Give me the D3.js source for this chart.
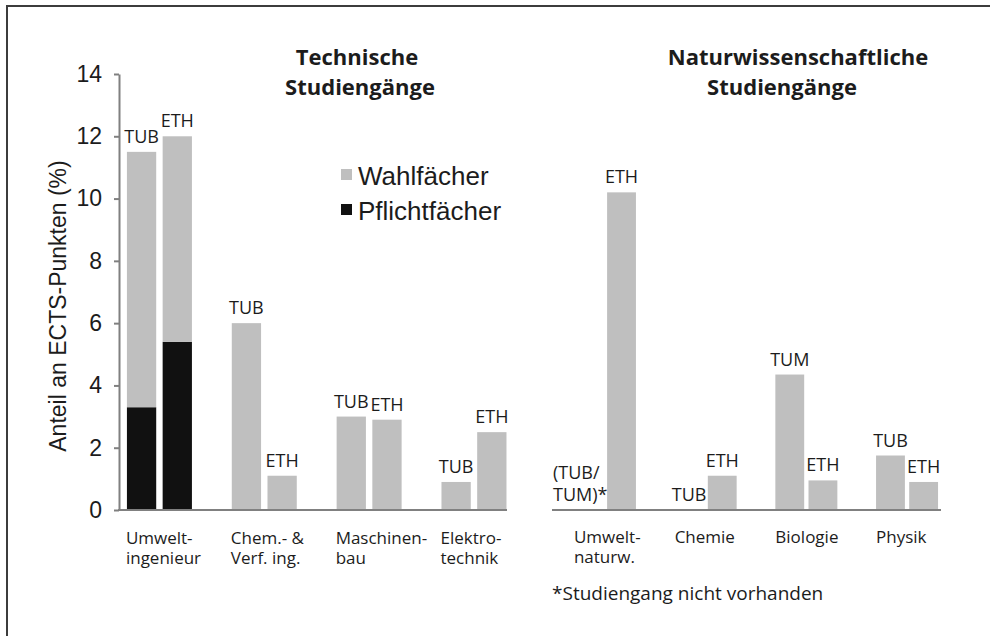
<!DOCTYPE html>
<html>
<head>
<meta charset="utf-8">
<script src="https://cdn.jsdelivr.net/npm/d3@7"></script>
<style>
body { margin: 0; background: #fff; }
svg text { fill: #1c1c1c; }
.lbl { font-family: 'Open Sans', sans-serif; font-size: 17px; }
.bar { font-family: 'Open Sans', sans-serif; font-size: 18px; }
.title { font-family: 'Open Sans', sans-serif; font-size: 22px; font-weight: bold; }
.arial { font-family: 'Liberation Sans', Arial, sans-serif; }
</style>
</head>
<body>
<div id="chart"></div>
<script>
// Technische Studiengänge
var techCategories = [['Umwelt-', 'ingenieur'], ['Chem.- &', 'Verf. ing.'], ['Maschinen-', 'bau'], ['Elektro-', 'technik']];
var techUnis = ['TUB', 'ETH'];
var techPflichtTUB = [3.3, 0, 0, 0];
var techWahlTUB = [8.2, 6.0, 3.0, 0.9];
var techPflichtETH = [5.4, 0, 0, 0];
var techWahlETH = [6.6, 1.1, 2.9, 2.5];

// Naturwissenschaftliche Studiengänge
var natCategories = [['Umwelt-', 'naturw.'], ['Chemie'], ['Biologie'], ['Physik']];
var natFirstLabels = [['(TUB/', 'TUM)*'], ['TUB'], ['TUM'], ['TUB']];
var natFirst = [null, 0, 4.35, 1.75];
var natETH = [10.2, 1.1, 0.95, 0.9];

var yTicks = [0, 2, 4, 6, 8, 10, 12, 14];
var legendItems = ['Wahlfächer', 'Pflichtfächer'];

var svgWidth = 990;
var svgHeight = 636;
var grey = '#bfbfbf';
var black = '#111111';
var axisColor = '#808080';

var svg = d3.select('#chart')
    .append('svg')
    .attr('width', svgWidth)
    .attr('height', svgHeight);

// frame (top + left only)
svg.append('path')
    .attr('d', 'M7,' + svgHeight + 'V6H' + svgWidth)
    .attr('fill', 'none')
    .attr('stroke', '#3c3c3c')
    .attr('stroke-width', 2);

var y = d3.scaleLinear().domain([0, 14]).range([510, 74]);

// y axis
var yAxis = svg.append('g')
    .attr('transform', 'translate(119,0)')
    .call(d3.axisLeft(y).tickValues(yTicks).tickSize(5).tickSizeOuter(0).tickPadding(12));
yAxis.selectAll('path, line').attr('stroke', axisColor).attr('stroke-width', 2);
yAxis.selectAll('text')
    .attr('class', 'arial')
    .attr('font-size', 23)
    .attr('fill', '#1c1c1c');

svg.append('text')
    .attr('class', 'arial')
    .attr('transform', 'rotate(-90)')
    .attr('x', -306)
    .attr('y', 66)
    .attr('text-anchor', 'middle')
    .attr('font-size', 23)
    .text('Anteil an ECTS-Punkten (%)');

// ---- left panel ----
var x0 = d3.scaleBand().domain(d3.range(techCategories.length)).range([107, 526.4]);
var c0 = x0.bandwidth() / 2;
var x1 = d3.scaleBand().domain(techUnis).range([c0 - 32.5, c0 + 32.5]).paddingInner(0.18);

var techRows = [];
techCategories.forEach(function(c, i) {
    techRows.push({ cat: i, uni: 'TUB', pflicht: techPflichtTUB[i], wahl: techWahlTUB[i] });
    techRows.push({ cat: i, uni: 'ETH', pflicht: techPflichtETH[i], wahl: techWahlETH[i] });
});
var stacked = d3.stack().keys(['pflicht', 'wahl'])(techRows);
var colors = { pflicht: black, wahl: grey };

var left = svg.append('g');
stacked.forEach(function(layer) {
    left.selectAll('rect.' + layer.key)
        .data(layer.filter(function(d) { return d[1] > d[0]; }))
        .enter()
        .append('rect')
        .attr('class', layer.key)
        .attr('x', d => x0(d.data.cat) + x1(d.data.uni))
        .attr('width', x1.bandwidth())
        .attr('y', d => y(d[1]))
        .attr('height', d => y(d[0]) - y(d[1]))
        .attr('fill', colors[layer.key]);
});

left.selectAll('text.bar')
    .data(techRows)
    .enter()
    .append('text')
    .attr('class', 'bar')
    .attr('text-anchor', 'middle')
    .attr('x', d => x0(d.cat) + x1(d.uni) + x1.bandwidth() / 2)
    .attr('y', d => y(d.pflicht + d.wahl) - 9)
    .text(d => d.uni);

svg.append('line')
    .attr('x1', 118).attr('x2', 507)
    .attr('y1', y(0)).attr('y2', y(0))
    .attr('stroke', axisColor).attr('stroke-width', 2);

techCategories.forEach(function(lines, i) {
    lines.forEach(function(s, k) {
        svg.append('text')
            .attr('class', 'lbl')
            .attr('x', x0(i) + x1('TUB') - 1)
            .attr('y', 544 + k * 20)
            .text(s);
    });
});

// legend
legendItems.forEach(function(s, i) {
    svg.append('rect')
        .attr('x', 341).attr('y', 169 + i * 35)
        .attr('width', 11).attr('height', 11)
        .attr('fill', i ? black : grey);
    svg.append('text')
        .attr('class', 'arial')
        .attr('font-size', 26)
        .attr('x', 358).attr('y', 185 + i * 35)
        .text(s);
});

// ---- right panel ----
var n0 = d3.scaleBand().domain(d3.range(natCategories.length)).range([554.6, 957.4]);
var nc = n0.bandwidth() / 2;
var n1 = d3.scaleBand().domain(['first', 'ETH']).range([nc - 31, nc + 31]).paddingInner(0.13);

var natRows = [];
natCategories.forEach(function(c, i) {
    natRows.push({ cat: i, slot: 'first', value: natFirst[i], label: natFirstLabels[i] });
    natRows.push({ cat: i, slot: 'ETH', value: natETH[i], label: ['ETH'] });
});

var right = svg.append('g');
right.selectAll('rect')
    .data(natRows.filter(d => d.value))
    .enter()
    .append('rect')
    .attr('x', d => n0(d.cat) + n1(d.slot))
    .attr('width', n1.bandwidth())
    .attr('y', d => y(d.value))
    .attr('height', d => y(0) - y(d.value))
    .attr('fill', grey);

natRows.forEach(function(d) {
    var missing = d.value === null;
    var xPos = missing ? 553 : n0(d.cat) + n1(d.slot) + n1.bandwidth() / 2;
    var base = y(missing ? 0 : d.value) - 9;
    d.label.forEach(function(s, k) {
        right.append('text')
            .attr('class', 'bar')
            .attr('text-anchor', missing ? 'start' : 'middle')
            .attr('x', xPos)
            .attr('y', base - (d.label.length - 1 - k) * 22)
            .text(s);
    });
});

svg.append('line')
    .attr('x1', 552).attr('x2', 941)
    .attr('y1', y(0)).attr('y2', y(0))
    .attr('stroke', axisColor).attr('stroke-width', 2);

natCategories.forEach(function(lines, i) {
    lines.forEach(function(s, k) {
        svg.append('text')
            .attr('class', 'lbl')
            .attr('x', n0(i) + n1('first'))
            .attr('y', 543 + k * 20)
            .text(s);
    });
});

svg.append('text')
    .attr('class', 'lbl')
    .attr('font-size', 19)
    .style('font-size', '19px')
    .attr('x', 552).attr('y', 600)
    .text('*Studiengang nicht vorhanden');

// titles
svg.append('text').attr('class', 'title').attr('text-anchor', 'middle')
    .attr('x', 357).attr('y', 65).text('Technische');
svg.append('text').attr('class', 'title').attr('text-anchor', 'middle')
    .attr('x', 360).attr('y', 95).text('Studiengänge');
svg.append('text').attr('class', 'title').attr('text-anchor', 'middle')
    .attr('x', 798).attr('y', 65).text('Naturwissenschaftliche');
svg.append('text').attr('class', 'title').attr('text-anchor', 'middle')
    .attr('x', 782).attr('y', 95).text('Studiengänge');
</script>
</body>
</html>
